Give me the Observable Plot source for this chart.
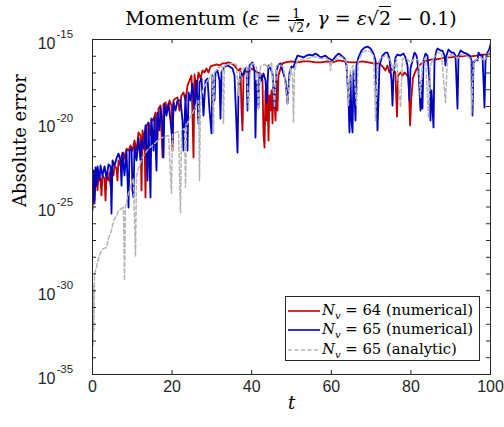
<!DOCTYPE html>
<html><head><meta charset="utf-8">
<script src="https://cdn.jsdelivr.net/npm/d3@7"></script>
<script src="https://cdn.jsdelivr.net/npm/@observablehq/plot@0.6"></script>
<style>
body{margin:0;background:#fff;}
#wrap{position:relative;width:504px;height:427px;overflow:hidden;}
#title{position:absolute;left:92px;width:398px;top:3px;text-align:center;font-family:"DejaVu Serif";font-size:19px;color:#000;white-space:nowrap;line-height:30px;}
.frac{display:inline-block;vertical-align:middle;text-align:center;font-size:12.5px;line-height:13px;margin:0 1px;}
.frac .num{display:block;border-bottom:1px solid #000;padding:0 1px;}
.frac .den{display:block;}
.ov{border-top:1px solid #000;}
#legend{position:absolute;left:285px;top:296px;width:195px;height:65px;border:1px solid #262626;background:#fff;font-family:"DejaVu Serif";font-size:14.8px;box-sizing:border-box;padding-top:4px;color:#000;}
.row{height:19.5px;display:flex;align-items:center;white-space:nowrap;}
.row svg{margin-left:2px;margin-right:2px;}
sub{font-size:10px;}
</style></head>
<body><div id="wrap"></div>
<script>
// Data: [t, log10(absolute error)]
const red = [[0,-25.21],[0.25,-23.72],[0.5,-24.61],[0.75,-23.42],[1,-23.30],[1.26,-24.01],[1.51,-23.18],[2.01,-23.30],[2.26,-24.31],[2.51,-23.12],[3.02,-23.30],[3.27,-24.61],[3.52,-23.18],[4.02,-23.42],[4.27,-22.94],[4.52,-23.72],[4.77,-22.82],[5.28,-23.12],[5.53,-22.52],[6.03,-22.70],[6.28,-23.42],[6.53,-22.22],[7.04,-22.52],[7.29,-21.93],[7.79,-21.75],[8.29,-22.22],[8.54,-21.51],[9.05,-21.63],[9.55,-21.33],[10.05,-21.63],[10.55,-21.03],[11.06,-21.63],[11.56,-20.55],[12.06,-20.73],[12.31,-24.01],[12.56,-20.43],[13.07,-21.03],[13.32,-24.43],[13.57,-20.13],[14.07,-19.96],[14.57,-20.73],[14.82,-19.72],[15.33,-19.84],[15.83,-19.36],[16.33,-21.03],[16.58,-19.12],[17.09,-18.94],[17.59,-22.04],[17.84,-18.88],[18.34,-18.76],[18.84,-19.24],[19.35,-18.64],[19.85,-18.94],[20.1,-21.63],[20.35,-18.64],[20.85,-18.52],[21.36,-18.46],[21.86,-19.24],[22.36,-18.34],[22.86,-18.16],[23.37,-18.64],[23.87,-17.75],[24.37,-17.45],[24.87,-17.15],[25.38,-22.04],[25.63,-17.09],[26.13,-18.04],[26.63,-16.97],[27.14,-17.33],[27.64,-16.85],[28.14,-16.97],[28.64,-16.73],[29.15,-16.97],[29.65,-16.61],[30.4,-16.55],[31.16,-16.49],[31.91,-16.55],[32.66,-16.43],[33.42,-16.43],[34.17,-16.37],[34.92,-16.43],[35.68,-16.55],[36.18,-16.73],[36.68,-16.85],[37.19,-16.73],[37.44,-19.24],[37.69,-20.43],[37.94,-17.15],[38.44,-16.85],[39.2,-16.97],[39.95,-16.73],[40.7,-16.85],[41.46,-16.97],[42.21,-17.03],[42.71,-17.45],[42.96,-20.61],[43.22,-21.45],[43.47,-18.04],[43.72,-19.84],[43.97,-17.75],[44.22,-21.03],[44.47,-18.34],[44.72,-19.24],[44.97,-18.04],[45.23,-20.01],[45.48,-17.75],[45.73,-18.64],[45.98,-19.84],[46.23,-17.45],[46.48,-19.24],[46.73,-17.15],[47.24,-16.73],[47.74,-16.43],[48.49,-16.37],[50,-16.31],[51.5,-16.37],[53,-16.31],[54.5,-16.31],[56,-16.37],[57.5,-16.37],[59,-16.31],[60.3,-16.37],[61.8,-16.25],[63.3,-16.31],[64.8,-16.37],[66.3,-16.37],[67.8,-16.31],[69.3,-16.37],[70.6,-16.43],[71.9,-16.43],[72.9,-16.61],[73.6,-16.85],[74.1,-16.55],[74.6,-16.97],[75.1,-16.73],[75.6,-16.85],[76.1,-16.97],[76.5,-19.6],[76.8,-17.15],[77.4,-16.97],[77.9,-17.15],[78.4,-16.97],[78.9,-17.09],[79.4,-17.27],[79.8,-20.13],[80.1,-18.52],[80.5,-17.33],[81,-16.97],[81.5,-16.73],[82,-16.55],[82.7,-16.43],[83.5,-16.31],[84.4,-16.25],[85.2,-16.19],[86.4,-16.19],[87.7,-16.13],[88.9,-16.07],[90.2,-16.07],[91.5,-16.01],[92.7,-16.01],[94,-15.96],[95.2,-16.01],[96.5,-15.96],[97.7,-15.90],[99,-15.90],[100,-15.84]];

const blue = [[0,-24.61],[0.25,-22.82],[0.5,-24.79],[0.75,-22.64],[1,-23.72],[1.26,-22.58],[1.76,-23.42],[2.01,-22.52],[2.51,-23.12],[3.02,-22.58],[3.52,-23.30],[4.02,-22.46],[4.52,-22.58],[4.77,-25.39],[5.03,-22.22],[5.53,-22.52],[6.03,-22.10],[6.53,-21.81],[7.04,-22.22],[7.29,-23.72],[7.54,-21.75],[8.04,-23.12],[8.54,-21.63],[9.05,-25.03],[9.3,-21.63],[9.8,-21.51],[10.05,-24.01],[10.3,-24.43],[10.55,-21.39],[11.06,-22.22],[11.56,-20.91],[12.06,-22.22],[12.31,-21.03],[12.81,-21.51],[13.32,-20.13],[13.82,-23.42],[14.07,-19.96],[14.57,-24.43],[14.82,-19.72],[15.33,-21.63],[15.58,-19.66],[16.08,-22.82],[16.33,-19.36],[16.83,-20.43],[17.09,-19.06],[17.59,-20.13],[17.84,-22.04],[18.09,-18.88],[18.59,-19.54],[19.1,-18.82],[19.6,-19.84],[20.1,-21.21],[20.35,-18.76],[20.85,-19.24],[21.36,-18.64],[22.11,-18.64],[22.61,-19.84],[22.86,-21.63],[23.37,-18.34],[23.87,-21.63],[24.12,-18.16],[24.62,-18.64],[25.13,-17.63],[25.63,-19.24],[26.13,-17.45],[26.63,-20.01],[26.88,-17.57],[27.39,-17.33],[27.89,-19.54],[28.39,-17.45],[28.89,-17.33],[29.4,-19.24],[29.9,-20.61],[30.15,-17.15],[30.65,-18.64],[30.9,-16.97],[31.41,-16.85],[31.91,-17.45],[32.16,-19.72],[32.41,-16.97],[32.91,-16.73],[33.67,-16.55],[34.42,-16.61],[35.18,-16.73],[35.68,-17.15],[35.93,-18.64],[36.43,-21.75],[36.68,-18.04],[37.19,-16.97],[37.69,-17.15],[38.19,-16.85],[38.69,-16.67],[38.94,-19.24],[39.45,-16.55],[40.2,-16.37],[40.7,-16.85],[40.95,-20.85],[41.21,-17.45],[41.71,-19.06],[41.96,-16.97],[42.46,-17.45],[42.96,-17.03],[43.47,-17.45],[43.72,-18.76],[44.22,-16.55],[44.72,-16.73],[45.23,-17.03],[45.73,-19.06],[46.23,-16.85],[46.73,-16.49],[47.24,-16.43],[47.74,-16.85],[48.49,-17.45],[48.99,-18.82],[49.5,-16.97],[50,-16.61],[50.5,-16.67],[51,-16.25],[51.51,-15.96],[52.26,-16.01],[53.02,-16.07],[53.77,-15.96],[54.52,-15.90],[55.28,-15.96],[56.03,-15.84],[56.78,-15.96],[57.29,-16.07],[58.04,-16.01],[58.54,-15.96],[59.3,-16.13],[60.3,-16.25],[61.06,-16.01],[61.81,-15.84],[62.56,-15.96],[63.32,-16.13],[63.82,-16.55],[64.32,-18.64],[64.57,-20.55],[64.82,-17.15],[65.08,-19.84],[65.33,-20.55],[65.58,-16.85],[66.08,-19.84],[66.33,-16.55],[66.83,-16.07],[67.59,-15.66],[68.34,-15.48],[69.1,-15.42],[69.85,-15.54],[70.6,-15.84],[71.11,-16.25],[71.61,-20.43],[72.11,-16.55],[72.86,-15.96],[73.62,-15.78],[74.12,-15.78],[74.62,-16.13],[75.13,-17.45],[75.38,-18.94],[75.63,-17.15],[76.13,-16.07],[76.63,-15.90],[77.39,-15.96],[78.14,-15.84],[78.64,-16.07],[79.15,-16.55],[79.65,-18.64],[79.9,-16.73],[80.4,-16.25],[80.9,-15.78],[81.41,-15.96],[81.91,-16.85],[82.41,-19.24],[82.66,-17.45],[82.91,-19.12],[83.17,-16.25],[83.67,-15.84],[84.17,-15.96],[84.67,-17.45],[84.92,-19.84],[85.18,-18.04],[85.68,-20.25],[85.93,-16.25],[86.43,-15.66],[86.68,-15.54],[87.44,-15.66],[87.94,-15.66],[88.44,-15.96],[88.69,-16.55],[88.94,-15.96],[89.45,-15.60],[90.2,-15.78],[90.7,-15.78],[91.21,-15.96],[91.71,-19.12],[91.96,-15.96],[92.46,-15.66],[93.22,-15.78],[93.97,-15.84],[94.72,-15.96],[95.23,-16.25],[95.48,-19.54],[95.73,-16.37],[96.23,-16.25],[96.73,-16.25],[96.98,-15.78],[97.49,-15.96],[97.99,-15.96],[98.24,-17.45],[98.49,-19.06],[98.74,-16.25],[99.25,-15.78],[99.75,-15.54],[100,-15.30]];

const gray = [[0,-34.16],[0.08,-30.58],[0.15,-33.27],[0.25,-29.69],[0.38,-32.37],[0.5,-29.09],[0.75,-28.79],[1,-28.61],[1.51,-28.07],[2.01,-27.72],[2.76,-27.48],[3.52,-27.42],[4.02,-26.88],[4.77,-26.40],[5.28,-25.81],[6.03,-25.51],[6.53,-25.21],[7.29,-25.09],[7.79,-25.03],[8.04,-29.39],[8.29,-24.91],[8.79,-24.43],[9.3,-24.01],[9.8,-23.60],[10.3,-23.30],[10.8,-27.96],[11.06,-23.12],[11.56,-22.70],[12.06,-22.34],[12.56,-22.04],[13.32,-21.75],[14.07,-21.51],[15.08,-21.33],[16.08,-21.09],[17.09,-20.91],[18.09,-20.79],[19.1,-20.73],[19.85,-24.2],[20.1,-20.67],[20.85,-20.55],[21.61,-20.49],[22.11,-25.33],[22.36,-20.43],[23.12,-20.31],[23.37,-23.84],[23.62,-20.13],[24.37,-19.72],[25.13,-19.42],[25.88,-19.0],[26.63,-18.64],[26.88,-23.42],[27.14,-18.46],[27.89,-17.93],[28.64,-17.57],[29.4,-17.27],[30.15,-17.03],[30.4,-20.61],[30.65,-16.97],[31.66,-16.67],[32.66,-16.61],[32.91,-20.01],[33.17,-16.55],[34.17,-16.49],[35.18,-16.43],[36.18,-16.49],[36.68,-18.34],[37.19,-16.85],[37.94,-16.73],[38.69,-16.61],[39.2,-19.24],[39.7,-16.49],[40.45,-16.43],[41.21,-16.67],[41.71,-19.24],[42.21,-16.61],[43.22,-16.49],[44.22,-16.67],[44.97,-16.37],[45.73,-19.06],[46.23,-16.55],[46.98,-16.49],[47.99,-16.67],[48.99,-18.82],[49.75,-16.73],[50.25,-17.15],[50.5,-19.96],[50.75,-16.85],[51.51,-16.25],[52.76,-16.19],[54.27,-16.13],[55.78,-16.01],[57.29,-16.13],[58.79,-16.13],[59.55,-16.25],[59.8,-16.85],[60.05,-16.37],[60.8,-16.25],[61.81,-16.01],[62.81,-16.07],[63.82,-16.37],[64.32,-18.94],[64.82,-16.85],[65.58,-16.55],[66.33,-18.94],[66.83,-16.25],[67.84,-15.78],[68.84,-15.66],[69.85,-15.72],[70.6,-15.96],[71.11,-19.84],[71.61,-16.49],[72.36,-16.13],[73.62,-15.96],[74.87,-16.25],[75.63,-16.85],[76.38,-16.13],[77.39,-19.06],[77.89,-16.13],[78.89,-16.13],[79.9,-16.37],[80.9,-16.13],[81.91,-16.25],[82.41,-18.46],[82.91,-16.37],[83.67,-16.07],[84.42,-19.72],[84.92,-16.55],[85.68,-16.13],[86.68,-15.78],[87.69,-15.84],[88.69,-18.76],[89.2,-16.01],[89.95,-15.90],[90.95,-15.96],[91.71,-16.13],[92.46,-15.90],[93.72,-15.96],[94.97,-16.13],[95.23,-19.54],[95.73,-16.37],[96.73,-16.13],[97.49,-16.07],[98.49,-16.25],[99.25,-15.90],[100,-15.66]];

const xTicks = [0, 20, 40, 60, 80, 100];
const yDecades = d3.range(-35, -14);        // tick marks every decade
const yLabelExps = [-15, -20, -25, -30, -35]; // labelled decades
const seriesNames = ["64 (numerical)", "65 (numerical)", "65 (analytic)"];
const seriesColors = ["#c00000", "#0000c0", "#b4b4b4"];

const axisColor = "#262626";
const pw = 398, ph = 335;

const lineOpts = (color, extra = {}) => ({
  x: d => d[0], y: d => Math.pow(10, d[1]), stroke: color, strokeWidth: 1.8,
  clip: true, strokeLinejoin: "round", ...extra
});

const chart = Plot.plot({
  width: 504, height: 427,
  marginLeft: 92, marginRight: 14, marginTop: 39, marginBottom: 53,
  style: {background: "transparent", fontFamily: "'Liberation Sans', Arial, sans-serif", overflow: "visible"},
  x: {domain: [0, 100], axis: null},
  y: {type: "log", domain: [1e-35, 1e-15], axis: null},
  marks: [
    Plot.line(red, lineOpts(seriesColors[0])),
    Plot.line(blue, lineOpts(seriesColors[1])),
    Plot.line(gray, lineOpts(seriesColors[2], {strokeDasharray: "4,2.5", strokeWidth: 1.5})),
    Plot.frame({stroke: axisColor, strokeWidth: 1}),
    Plot.tickY(yDecades, {y: d => Math.pow(10, d), insetRight: pw - 4, stroke: axisColor}),
    Plot.tickY(yDecades, {y: d => Math.pow(10, d), insetLeft: pw - 4, stroke: axisColor}),
    Plot.tickX(xTicks, {x: d => d, insetTop: ph - 4, stroke: axisColor}),
    Plot.tickX(xTicks, {x: d => d, insetBottom: ph - 4, stroke: axisColor}),
    Plot.text(xTicks, {x: d => d, text: d => String(d), frameAnchor: "bottom", lineAnchor: "top", dy: 6, fontSize: 16, fill: axisColor}),
    Plot.text(yLabelExps, {y: d => Math.pow(10, d), text: () => "10", frameAnchor: "left", textAnchor: "end", dx: -37, dy: 4, fontSize: 16, fill: axisColor}),
    Plot.text(yLabelExps, {y: d => Math.pow(10, d), text: d => String(d), frameAnchor: "left", textAnchor: "start", dx: -36, dy: -5, fontSize: 11.5, fill: axisColor}),
    Plot.text(["t"], {text: d => d, frameAnchor: "bottom", dy: 34, fontFamily: "DejaVu Serif", fontStyle: "italic", fontSize: 18, fill: "#000"}),
    Plot.text(["Absolute error"], {text: d => d, frameAnchor: "left", rotate: -90, dx: -72, fontFamily: "DejaVu Serif", fontSize: 18, fill: "#000"})
  ]
});

const wrap = document.getElementById("wrap");
wrap.appendChild(chart);

const title = document.createElement("div");
title.id = "title";
title.innerHTML = 'Momentum (<i>ε</i> = <span class="frac"><span class="num">1</span><span class="den">√<span class="ov">2</span></span></span>, <i>γ</i> = <i>ε</i>√<span class="ov">2</span> − 0.1)';
wrap.appendChild(title);

const legend = document.createElement("div");
legend.id = "legend";
seriesNames.forEach((name, i) => {
  const row = document.createElement("div");
  row.className = "row";
  const dash = i === 2 ? ' stroke-dasharray="4,2.5"' : '';
  row.innerHTML = `<svg width="32" height="6"><line x1="0" y1="3" x2="32" y2="3" stroke="${seriesColors[i]}" stroke-width="1.6"${dash}/></svg><span><i>N</i><sub><i>v</i></sub> = ${name}</span>`;
  legend.appendChild(row);
});
wrap.appendChild(legend);
</script>
</body></html>
